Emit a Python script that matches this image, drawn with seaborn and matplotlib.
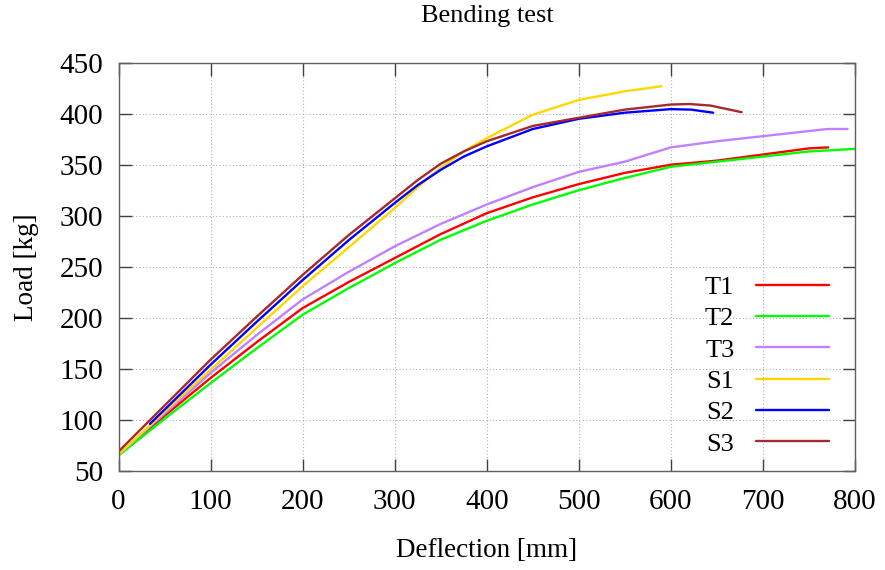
import matplotlib
matplotlib.use("Agg")
import matplotlib.pyplot as plt
import seaborn as sns
import pandas as pd

# deflection [mm] / load [kg]
t1_x = [0, 50, 100, 150, 200, 250, 300, 350, 400, 450, 500, 550, 600, 650, 700, 750, 771]
t1_y = [66, 104, 141, 176, 209.5, 235, 258.5, 282, 302.5, 318, 331, 342, 350, 354, 360, 366, 367]

t2_x = [0, 50, 100, 150, 200, 250, 300, 350, 400, 450, 500, 550, 600, 650, 700, 750, 800]
t2_y = [65, 101, 136, 170, 203, 229, 253.5, 276.5, 295, 311, 325, 337, 348, 353, 358, 363, 365.5]

t3_x = [0, 50, 100, 150, 200, 250, 300, 350, 400, 450, 500, 525, 550, 575, 600, 625, 650, 700, 750, 770, 792]
t3_y = [66, 106, 146, 183, 218, 245, 270, 292, 311, 328, 343, 348, 353, 360, 367, 370, 373, 378, 383, 385, 385]

s1_x = [0, 50, 100, 150, 200, 250, 300, 325, 350, 375, 400, 450, 500, 550, 575, 590]
s1_y = [66, 108, 149, 190, 231, 269, 307.5, 328, 347, 363, 376, 399, 413.5, 422, 425, 427]

s2_x = [34, 50, 100, 150, 200, 250, 300, 325, 350, 375, 400, 450, 500, 550, 600, 622, 646]
s2_y = [96, 110, 154, 196, 237, 276, 312.5, 330, 345, 358, 368, 385, 395, 401, 404.5, 404, 401]

s3_x = [0, 50, 100, 150, 200, 250, 300, 325, 350, 375, 400, 450, 500, 550, 600, 620, 643, 677]
s3_y = [69, 114, 159, 201, 242, 281, 317, 335, 351, 363, 373, 388, 396, 404, 409, 409.5, 408, 401.5]

names = ["T1", "T2", "T3", "S1", "S2", "S3"]
colors = ["#ff0000", "#00ff00", "#c080ff", "#ffd700", "#0000ff", "#a52a2a"]

xs = [t1_x, t2_x, t3_x, s1_x, s2_x, s3_x]
ys = [t1_y, t2_y, t3_y, s1_y, s2_y, s3_y]
frames = []
for name, x, y in zip(names, xs, ys):
    frames.append(pd.DataFrame({"Deflection": x, "Load": y, "Series": name}))
df = pd.concat(frames, ignore_index=True)

sns.set_theme(style="ticks")
plt.rcParams["font.family"] = ["Liberation Serif", "DejaVu Serif"]
plt.rcParams["text.color"] = "black"

fig = plt.figure(figsize=(8.85, 5.70), dpi=100)
ax = fig.add_axes([0.134, 0.174, 0.832, 0.716])

sns.lineplot(data=df, x="Deflection", y="Load", hue="Series",
             palette=dict(zip(names, colors)), hue_order=names,
             estimator=None, sort=False, linewidth=1.7, ax=ax)

ax.set_xlim(0, 800)
ax.set_ylim(50, 450)
ax.set_xticks(range(0, 801, 100))
ax.set_yticks(range(50, 451, 50))
ax.grid(True, linestyle=(0, (1, 2)), color="#b0b0b0", linewidth=0.8)
ax.tick_params(direction="in", length=9, width=1, top=True, right=True,
               labelsize=21, colors="#404040", labelcolor="black")
ax.tick_params(axis="y", pad=11)
ax.tick_params(axis="x", pad=13)
for sp in ax.spines.values():
    sp.set_color("#606060")
    sp.set_linewidth(1)

ax.set_xlabel("Deflection [mm]", fontsize=19.5, color="black")
ax.set_ylabel("Load [kg]", fontsize=19.5, color="black")
ax.xaxis.set_label_coords(0.5, -0.165)
ax.yaxis.set_label_coords(-0.108, 0.5)
fig.text(0.551, 0.972, "Bending test", ha="center", va="center", fontsize=19)

leg = ax.legend(loc="lower right", bbox_to_anchor=(0.9654, 0.037), frameon=False,
                markerfirst=False, fontsize=19, handlelength=2.77,
                labelspacing=0.3, handletextpad=0.83, borderpad=0, borderaxespad=0)
for t in leg.get_texts():
    t.set_color("black")

fig.savefig("out.png", dpi=100)
